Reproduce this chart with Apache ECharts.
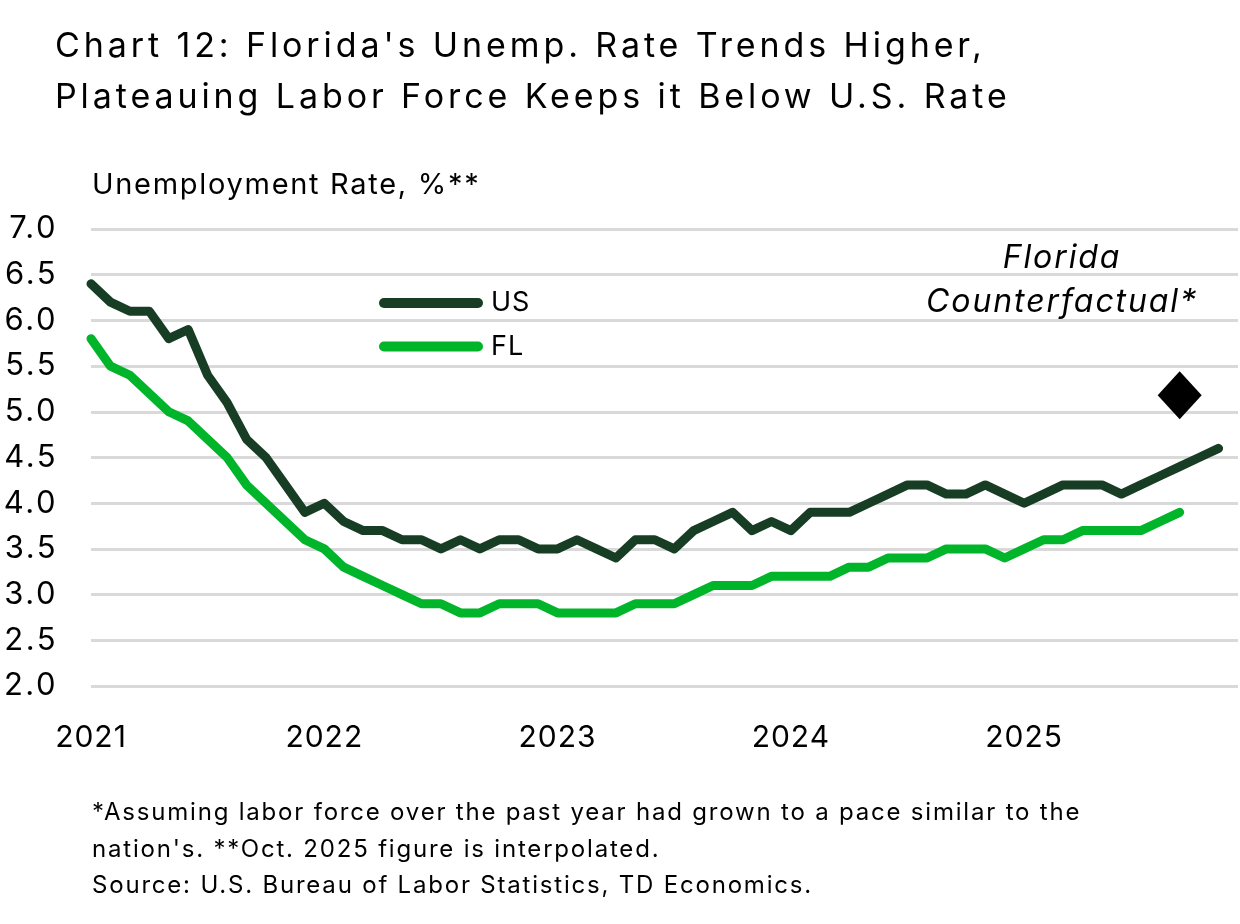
<!DOCTYPE html>
<html>
<head>
<meta charset="utf-8">
<script src="https://cdn.jsdelivr.net/npm/echarts@6/dist/echarts.min.js"></script>
<style>
html,body{margin:0;padding:0;background:#fff;}
#chart{width:1240px;height:924px;}
</style>
</head>
<body>
<div id="chart"></div>
<script>
const years = ['2021','2022','2023','2024','2025'];
const monthNames = ['01','02','03','04','05','06','07','08','09','10','11','12'];
const categories = [];
years.forEach(y => monthNames.forEach(m => categories.push(y + '-' + m)));

const usRate = [
  6.4,6.2,6.1,6.1,5.8,5.9,5.4,5.1,4.7,4.5,4.2,3.9,
  4.0,3.8,3.7,3.7,3.6,3.6,3.5,3.6,3.5,3.6,3.6,3.5,
  3.5,3.6,3.5,3.4,3.6,3.6,3.5,3.7,3.8,3.9,3.7,3.8,
  3.7,3.9,3.9,3.9,4.0,4.1,4.2,4.2,4.1,4.1,4.2,4.1,
  4.0,4.1,4.2,4.2,4.2,4.1,4.2,4.3,4.4,4.5,4.6
];
const flRate = [
  5.8,5.5,5.4,5.2,5.0,4.9,4.7,4.5,4.2,4.0,3.8,3.6,
  3.5,3.3,3.2,3.1,3.0,2.9,2.9,2.8,2.8,2.9,2.9,2.9,
  2.8,2.8,2.8,2.8,2.9,2.9,2.9,3.0,3.1,3.1,3.1,3.2,
  3.2,3.2,3.2,3.3,3.3,3.4,3.4,3.4,3.5,3.5,3.5,3.4,
  3.5,3.6,3.6,3.7,3.7,3.7,3.7,3.8,3.9
];
const counterfactual = [['2025-09', 5.18]];
const yTicks = { min: 2.0, max: 7.0, step: 0.5 };

// letter spacing (tracking) per font size, to mimic the wide-set reference typeface
(function () {
  const P = CanvasRenderingContext2D.prototype;
  if (!('letterSpacing' in P)) return;
  const track = { 34: 3.9, 29: 1.7, 31: 2.5, 30: 1.0, 27: 1.0, 24: 1.8, 32: 1.9 };
  function apply(ctx) {
    const m = /(\d+(?:\.\d+)?)px/.exec(ctx.font || '');
    const s = m ? track[Math.round(parseFloat(m[1]))] : 0;
    ctx.letterSpacing = (s || 0) + 'px';
  }
  ['fillText', 'strokeText', 'measureText'].forEach(fn => {
    const orig = P[fn];
    P[fn] = function () { apply(this); return orig.apply(this, arguments); };
  });
})();

const FONT = 'Inter, "Noto Sans", sans-serif';
const DARK = '#173d24';
const BRIGHT = '#00b52a';

const chart = echarts.init(document.getElementById('chart'), null, {renderer:'canvas'});
chart.setOption({
  animation: false,
  backgroundColor: '#ffffff',
  title: {
    text: "Chart 12: Florida's Unemp. Rate Trends Higher,\nPlateauing Labor Force Keeps it Below U.S. Rate",
    left: 55, top: 21, padding: 0,
    textStyle: { fontFamily: FONT, fontSize: 34, fontWeight: 'normal', color: '#000', lineHeight: 51 }
  },
  grid: { left: 91, right: 2, top: 229, bottom: 238, containLabel: false },
  legend: {
    orient: 'vertical',
    left: 379, top: 289, padding: 0,
    itemWidth: 104, itemHeight: 10, itemGap: 15.5,
    icon: 'path://M5 0H99A5 5 0 0 1 99 10H5A5 5 0 0 1 5 0Z',
    data: ['US', 'FL'],
    textStyle: { fontFamily: FONT, fontSize: 27, color: '#000', padding: [0,0,0,3] }
  },
  xAxis: {
    type: 'category',
    data: categories,
    boundaryGap: false,
    axisLine: { show: false },
    axisTick: { show: false },
    splitLine: { show: false },
    axisLabel: {
      interval: (i) => i % 12 === 0,
      formatter: (v) => v.slice(0, 4),
      fontFamily: FONT, fontSize: 30, color: '#000', margin: 36
    }
  },
  yAxis: {
    type: 'value',
    min: yTicks.min, max: yTicks.max, interval: yTicks.step,
    axisLine: { show: false },
    axisTick: { show: false },
    splitLine: { lineStyle: { color: '#d9d9d9', width: 3 } },
    axisLabel: {
      formatter: (v) => v.toFixed(1),
      fontFamily: FONT, fontSize: 31, color: '#000', margin: 33
    }
  },
  graphic: [
    { type: 'text', x: 92, y: 185, style: { text: 'Unemployment Rate, %**', font: '29px ' + FONT, fill: '#000', verticalAlign: 'middle' } },
    { type: 'text', x: 1062, y: 258, style: { text: 'Florida', font: 'italic 32px ' + FONT, fill: '#000', align: 'center', verticalAlign: 'middle' } },
    { type: 'text', x: 1062, y: 302, style: { text: 'Counterfactual*', font: 'italic 32px ' + FONT, fill: '#000', align: 'center', verticalAlign: 'middle' } },
    { type: 'text', x: 92, y: 795, style: { text: "*Assuming labor force over the past year had grown to a pace similar to the\nnation's. **Oct. 2025 figure is interpolated.\nSource: U.S. Bureau of Labor Statistics, TD Economics.", font: '24px ' + FONT, fill: '#000', lineHeight: 36.5, verticalAlign: 'top' } }
  ],
  series: [
    {
      name: 'US', type: 'line', data: usRate, showSymbol: false, symbol: 'none',
      lineStyle: { color: DARK, width: 9, cap: 'round', join: 'round' },
      itemStyle: { color: DARK }, z: 3
    },
    {
      name: 'FL', type: 'line', data: flRate, showSymbol: false, symbol: 'none',
      lineStyle: { color: BRIGHT, width: 9, cap: 'round', join: 'round' },
      itemStyle: { color: BRIGHT }, z: 3
    },
    {
      name: 'Florida Counterfactual', type: 'scatter', data: counterfactual,
      symbol: 'diamond', symbolSize: [44, 48],
      itemStyle: { color: '#000', opacity: 1 }, z: 4
    }
  ]
});
</script>
</body>
</html>
